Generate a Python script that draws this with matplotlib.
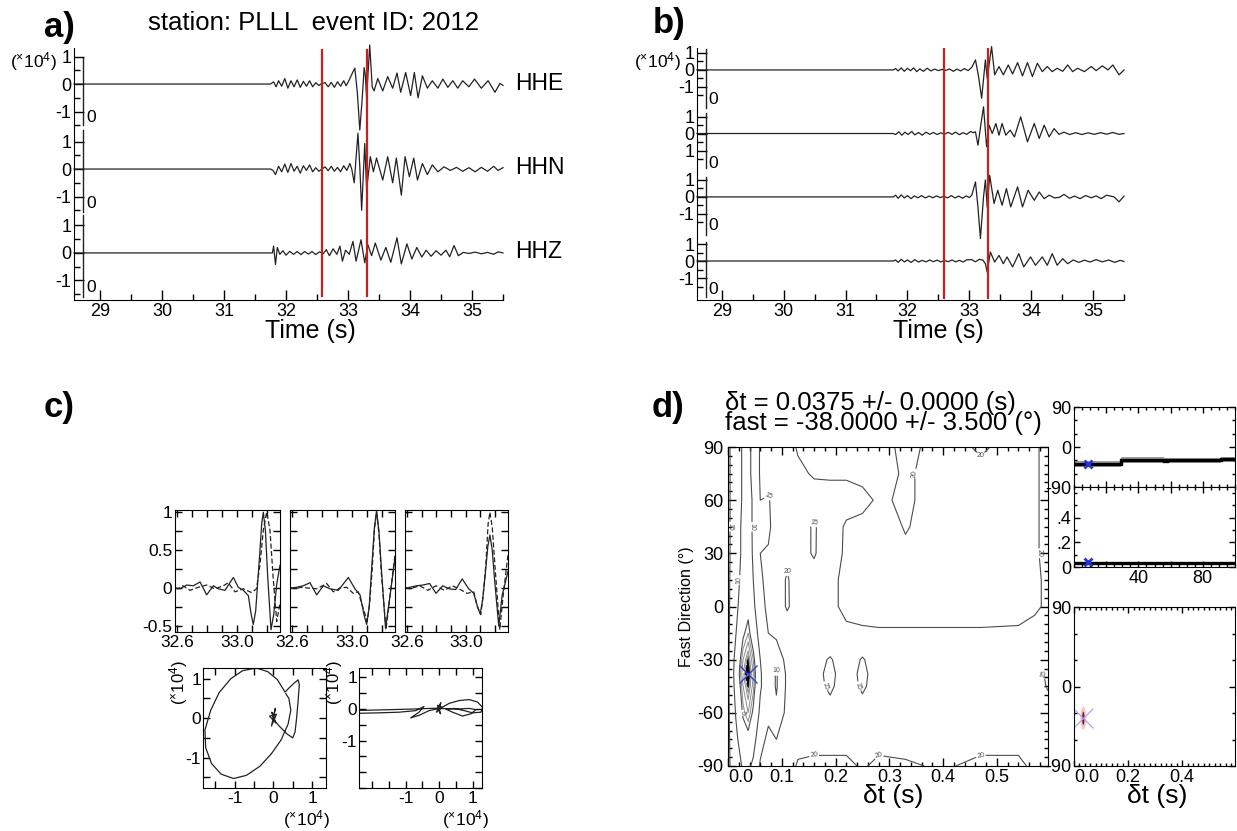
import numpy as np
import matplotlib
matplotlib.use('Agg')
import matplotlib.pyplot as plt
from matplotlib.ticker import MultipleLocator
from matplotlib.patches import Ellipse

plt.rcParams['font.family'] = ['Liberation Sans', 'DejaVu Sans']
plt.rcParams['mathtext.fontset'] = 'custom'
plt.rcParams['mathtext.rm'] = 'Liberation Sans'
plt.rcParams['mathtext.it'] = 'Liberation Sans:italic'
plt.rcParams['mathtext.bf'] = 'Liberation Sans:bold'
plt.rcParams['axes.unicode_minus'] = False

# ---------------- data ----------------
STATION = "PLLL"
EVENT_ID = "2012"
CHANNELS = ["HHE", "HHN", "HHZ"]
WINDOW = [32.585, 33.30]          # analysis window (s)
TIME_TICKS = [29, 30, 31, 32, 33, 34, 35]

HHE = [(28.58,0),(31.75,0),(31.80,0.08),(31.84,-0.10),(31.88,0.12),(31.93,-0.08),(31.98,0.20),(32.03,-0.15),
       (32.08,0.12),(32.13,-0.10),(32.18,0.15),(32.23,-0.12),(32.28,0.10),(32.33,-0.08),(32.38,0.12),(32.43,-0.10),
       (32.48,0.05),(32.53,-0.05),(32.58,0.02),(32.63,0.05),(32.68,-0.10),(32.73,0.06),(32.78,-0.12),(32.83,0.08),
       (32.88,-0.08),(32.93,0.12),(32.97,-0.06),(33.02,0.15),(33.07,0.40),(33.11,0.58),(33.15,-0.30),(33.19,-1.67),
       (33.23,-0.50),(33.26,0.60),(33.28,0.30),(33.30,-0.50),(33.35,1.42),(33.39,-0.10),(33.42,-0.25),(33.48,0.20),
       (33.56,-0.25),(33.64,0.27),(33.72,-0.15),(33.79,0.40),(33.85,-0.30),(33.93,0.42),(34.01,-0.42),(34.07,0.42),
       (34.13,-0.50),(34.20,0.30),(34.28,-0.15),(34.36,0.12),(34.45,-0.15),(34.53,0.18),(34.61,-0.12),(34.69,0.12),
       (34.77,-0.15),(34.85,0.12),(34.95,-0.10),(35.04,0.18),(35.15,-0.15),(35.26,0.12),(35.37,-0.30),(35.45,0.02),
       (35.50,-0.05)]
HHN = [(28.58,0),(31.75,0),(31.79,-0.05),(31.83,-0.20),(31.88,0.10),(31.93,-0.10),(31.98,0.18),(32.03,-0.12),
       (32.08,0.20),(32.13,-0.08),(32.18,0.10),(32.23,-0.15),(32.28,0.12),(32.33,-0.05),(32.38,0.15),(32.43,-0.10),
       (32.48,0.05),(32.53,-0.08),(32.58,0.00),(32.63,0.08),(32.68,-0.06),(32.73,0.10),(32.78,-0.08),(32.83,0.06),
       (32.88,-0.10),(32.93,0.12),(32.98,-0.05),(33.03,0.20),(33.06,0.00),(33.10,-0.50),(33.13,0.40),(33.16,1.30),
       (33.19,0.10),(33.22,-1.50),(33.27,0.93),(33.30,-0.75),(33.36,0.45),(33.41,-0.10),(33.46,0.40),(33.56,-0.40),
       (33.64,0.45),(33.72,-0.50),(33.78,0.40),(33.86,-0.95),(33.92,0.45),(33.99,-0.28),(34.06,0.40),(34.12,-0.40),
       (34.20,0.20),(34.28,-0.20),(34.36,0.15),(34.45,-0.10),(34.55,0.08),(34.65,-0.05),(34.75,0.06),(34.85,-0.08),
       (34.95,0.05),(35.05,-0.10),(35.15,0.06),(35.25,-0.08),(35.35,0.10),(35.42,-0.05),(35.50,0.05)]
HHZ = [(28.58,0),(31.78,0),(31.80,0.25),(31.83,-0.42),(31.86,0.20),(31.90,-0.05),(31.95,0.08),(32.00,-0.08),
       (32.06,0.06),(32.12,-0.05),(32.18,0.05),(32.24,-0.06),(32.30,0.05),(32.36,-0.04),(32.42,0.05),(32.48,-0.06),
       (32.54,0.04),(32.60,-0.03),(32.65,0.12),(32.70,-0.10),(32.76,0.15),(32.82,-0.05),(32.87,0.25),(32.91,-0.30),
       (32.96,0.10),(33.02,-0.05),(33.08,0.42),(33.13,-0.30),(33.21,0.48),(33.27,-0.36),(33.32,0.30),(33.38,-0.10),
       (33.44,0.36),(33.53,-0.26),(33.61,0.20),(33.69,-0.34),(33.79,0.55),(33.86,-0.40),(33.95,0.33),(34.03,-0.22),
       (34.11,0.20),(34.19,-0.15),(34.26,0.10),(34.34,-0.12),(34.42,0.08),(34.50,-0.08),(34.58,0.10),(34.64,-0.14),
       (34.71,0.27),(34.78,-0.10),(34.86,0.02),(34.95,-0.02),(35.05,0.03),(35.15,-0.03),(35.25,0.02),(35.35,-0.05),
       (35.42,0.04),(35.50,0.00)]

ROT1 = [(28.6,0),(31.77,0),(31.81,0.08),(31.85,-0.06),(31.90,0.12),(31.95,-0.08),(32.00,0.10),(32.05,-0.05),
        (32.10,0.12),(32.15,-0.10),(32.20,0.06),(32.26,-0.08),(32.32,0.10),(32.38,-0.06),(32.44,0.05),(32.50,-0.04),
        (32.56,0.03),(32.62,-0.03),(32.68,0.06),(32.74,-0.08),(32.80,0.05),(32.86,-0.06),(32.92,0.08),(32.98,-0.04),
        (33.04,0.15),(33.10,0.59),(33.15,-0.40),(33.20,-1.67),(33.26,0.59),(33.29,-0.49),(33.36,1.37),(33.41,-0.29),
        (33.48,0.20),(33.55,-0.29),(33.63,0.29),(33.70,-0.24),(33.78,0.43),(33.86,-0.35),(33.94,0.43),(34.02,-0.39),
        (34.10,0.39),(34.18,-0.10),(34.26,0.20),(34.34,-0.10),(34.42,0.10),(34.51,-0.08),(34.59,0.29),(34.67,-0.10),
        (34.75,0.10),(34.86,-0.10),(34.97,0.20),(35.05,-0.04),(35.15,0.24),(35.24,0.00),(35.32,0.29),(35.42,-0.29),
        (35.50,0.00)]
ROT2 = [(28.6,0),(31.77,0),(31.81,-0.06),(31.86,0.10),(31.91,-0.10),(31.96,0.08),(32.01,-0.06),(32.07,0.12),
        (32.12,-0.08),(32.18,0.06),(32.24,-0.10),(32.30,0.08),(32.36,-0.05),(32.42,0.06),(32.48,-0.06),(32.54,0.04),
        (32.60,-0.04),(32.66,0.07),(32.72,-0.05),(32.78,0.08),(32.84,-0.07),(32.90,0.05),(32.96,-0.05),(33.02,0.12),
        (33.06,0.05),(33.10,0.10),(33.14,-0.69),(33.19,0.60),(33.23,1.57),(33.28,-0.78),(33.32,0.49),(33.37,0.00),
        (33.43,0.59),(33.48,-0.10),(33.53,0.59),(33.59,-0.10),(33.66,0.20),(33.73,-0.20),(33.83,0.98),(33.94,-0.49),
        (34.05,0.59),(34.13,-0.29),(34.21,0.49),(34.29,-0.20),(34.37,0.29),(34.45,-0.05),(34.53,0.08),(34.62,-0.06),
        (34.72,0.05),(34.82,-0.06),(34.92,0.04),(35.02,-0.05),(35.12,0.05),(35.22,-0.04),(35.32,0.06),(35.42,-0.05),
        (35.50,0.00)]
ROT3 = [(28.6,0),(31.77,0),(31.81,0.10),(31.85,-0.08),(31.90,0.12),(31.95,-0.06),(32.00,0.08),(32.06,-0.10),
        (32.11,0.06),(32.17,-0.05),(32.23,0.08),(32.29,-0.06),(32.35,0.05),(32.41,-0.05),(32.47,0.06),(32.53,-0.04),
        (32.59,0.04),(32.65,-0.06),(32.71,0.08),(32.77,-0.06),(32.83,0.05),(32.89,-0.08),(32.95,0.06),(33.00,-0.04),
        (33.04,0.10),(33.10,0.88),(33.14,-0.60),(33.18,-2.45),(33.23,0.00),(33.26,1.00),(33.29,-0.60),(33.33,1.27),
        (33.40,-0.39),(33.46,0.39),(33.53,-0.49),(33.60,0.49),(33.67,-0.59),(33.78,0.59),(33.86,-0.59),(33.95,0.39),
        (34.05,-0.20),(34.13,0.29),(34.21,-0.10),(34.29,0.10),(34.38,-0.06),(34.46,-0.02),(34.53,0.15),(34.62,-0.08),
        (34.70,0.05),(34.79,-0.10),(34.88,0.08),(34.97,-0.05),(35.05,0.06),(35.13,-0.10),(35.22,0.10),(35.34,0.00),
        (35.42,-0.29),(35.50,0.05)]
ROT4 = [(28.6,0),(31.77,0),(31.81,0.06),(31.85,-0.08),(31.90,0.10),(31.95,-0.05),(32.00,0.06),(32.06,-0.08),
        (32.12,0.08),(32.18,-0.06),(32.24,0.04),(32.30,-0.05),(32.36,0.06),(32.42,-0.04),(32.48,0.05),(32.54,-0.05),
        (32.60,0.03),(32.66,-0.04),(32.72,0.06),(32.78,-0.05),(32.84,0.04),(32.90,-0.06),(32.96,0.07),(33.04,0.08),
        (33.10,-0.05),(33.16,0.10),(33.22,0.05),(33.26,-0.16),(33.29,-0.65),(33.34,0.53),(33.41,-0.06),(33.48,0.33),
        (33.55,-0.16),(33.61,0.24),(33.70,-0.35),(33.80,0.43),(33.88,-0.35),(33.99,0.24),(34.07,-0.25),(34.18,0.24),
        (34.26,-0.25),(34.34,0.43),(34.42,-0.25),(34.51,0.14),(34.59,-0.16),(34.68,0.06),(34.77,-0.08),(34.86,0.05),
        (34.95,-0.06),(35.05,0.08),(35.15,-0.05),(35.25,0.06),(35.35,-0.08),(35.44,0.04),(35.50,-0.03)]

# panel c: normalised waveforms in the window (solid / dashed)
C1_SOLID = [(32.59,0.0),(32.62,-0.01),(32.665,0.04),(32.709,0.03),(32.754,0.08),(32.798,-0.09),(32.843,0.03),
            (32.876,-0.01),(32.92,-0.03),(32.976,0.14),(33.009,0.01),(33.043,-0.03),(33.076,-0.10),(33.095,-0.35),
            (33.109,-0.48),(33.125,-0.30),(33.15,0.40),(33.165,0.85),(33.176,1.0),(33.19,0.75),(33.205,0.15),
            (33.227,-0.55),(33.245,-0.35),(33.265,0.05),(33.287,0.30)]
C1_DASH = [(32.59,0.0),(32.605,-0.01),(32.64,0.03),(32.687,-0.03),(32.742,0.01),(32.798,0.04),(32.853,-0.01),
           (32.909,0.03),(32.942,0.07),(32.987,-0.05),(33.043,-0.01),(33.098,-0.06),(33.13,-0.01),(33.153,0.30),
           (33.176,0.77),(33.198,1.0),(33.22,0.77),(33.242,0.12),(33.265,-0.44),(33.287,-0.20)]
C2_SOLID = [(32.59,0.0),(32.631,0.01),(32.676,0.03),(32.72,0.07),(32.765,-0.09),(32.809,0.03),(32.854,-0.01),
            (32.909,-0.03),(32.976,0.14),(33.02,-0.01),(33.054,-0.09),(33.08,-0.35),(33.098,-0.48),(33.115,-0.25),
            (33.131,0.25),(33.150,0.80),(33.164,1.02),(33.18,0.75),(33.198,0.20),(33.224,-0.53),(33.254,-0.10),
            (33.287,0.40)]
C2_DASH = [(32.59,0.0),(32.631,-0.01),(32.654,0.01),(32.765,-0.01),(32.831,0.06),(32.876,-0.05),(32.92,0.0),
           (32.965,0.01),(33.009,-0.07),(33.042,-0.05),(33.08,-0.30),(33.102,-0.44),(33.118,-0.20),(33.135,0.25),
           (33.150,0.78),(33.164,1.0),(33.18,0.72),(33.196,0.20),(33.227,-0.55),(33.254,-0.10),(33.287,0.44)]
C3_SOLID = [(32.59,0.0),(32.62,0.01),(32.665,0.03),(32.709,0.04),(32.754,0.06),(32.798,-0.07),(32.843,0.03),
            (32.887,-0.01),(32.931,-0.02),(32.976,0.12),(33.02,-0.01),(33.054,-0.07),(33.08,-0.25),(33.098,-0.34),
            (33.115,-0.15),(33.131,0.15),(33.15,0.55),(33.164,0.70),(33.18,0.50),(33.194,0.15),(33.224,-0.50),
            (33.247,-0.10),(33.287,0.22)]
C3_DASH = [(32.59,0.0),(32.62,-0.01),(32.687,0.03),(32.742,-0.03),(32.798,0.03),(32.854,-0.03),(32.909,0.03),
           (32.954,-0.01),(33.009,-0.07),(33.054,-0.05),(33.08,-0.25),(33.102,-0.35),(33.118,-0.10),(33.136,0.30),
           (33.152,0.85),(33.164,1.0),(33.18,0.80),(33.198,0.30),(33.231,-0.55),(33.254,-0.10),(33.287,0.44)]

# particle motion (x 1e4)
PM_BEFORE = [(0,0),(0.05,0.25),(-0.05,-0.2),(0.08,0.1),(-0.1,0.05),(0.06,-0.12),(-0.04,0.15),(0.02,-0.05),
             (0.15,-0.2),(0.35,-0.4),(0.5,-0.5),(0.56,-0.35),(0.6,0.0),(0.64,0.45),(0.67,0.85),(0.64,0.97),
             (0.55,0.9),(0.42,0.78),(0.3,0.66),(0.1,0.98),(-0.15,1.18),(-0.45,1.27),(-0.8,1.2),(-1.1,1.0),
             (-1.4,0.65),(-1.62,0.2),(-1.77,-0.3),(-1.75,-0.75),(-1.6,-1.15),(-1.35,-1.42),(-1.03,-1.53),
             (-0.7,-1.45),(-0.35,-1.22),(-0.05,-0.9),(0.2,-0.55),(0.38,-0.15),(0.45,0.2),(0.4,0.5),(0.32,0.62)]
PM_AFTER = [(0,0),(0.05,0.2),(-0.08,-0.1),(0.1,0.05),(-0.05,0.12),(0.04,-0.15),(0,0),(0.3,0.18),(0.6,0.27),
            (0.9,0.3),(1.15,0.22),(1.3,0.05),(1.25,-0.1),(1.0,-0.12),(0.75,-0.05),(0.45,0.02),(0.2,0.0),
            (0.4,-0.1),(0.7,-0.22),(0.95,-0.15),(1.1,-0.02),(0.9,0.02),(0.5,0.0),(0.0,0.02),(-0.3,-0.05),
            (-0.6,-0.2),(-0.85,-0.28),(-0.6,-0.1),(-0.45,0.08),(-0.7,-0.05),(-1.2,-0.1),(-1.8,-0.12),(-2.6,-0.14),
            (-2.6,-0.05),(-1.5,-0.02),(-0.8,0.0),(0.0,0.03)]

# panel d: energy grid
DT = [0, 0.015, 0.028, 0.0375, 0.047, 0.06, 0.075, 0.09, 0.11, 0.13, 0.16, 0.19, 0.22, 0.25, 0.28, 0.33,
      0.40, 0.47, 0.54, 0.57, 0.595]
FAST = [-90, -75, -60, -45, -38, -30, -15, 0, 15, 30, 45, 60, 75, 90]
ENERGY = [
 [16, 12, 9.5, 9, 11, 15.5, 17.5, 17.5, 18, 20.5, 21, 21, 21, 19.5, 21, 20.5, 19.5, 21, 21, 19, 18.5],
 [16, 11, 7, 6, 8, 13.5, 16, 15, 17.5, 18.5, 18.5, 18.5, 18.5, 18.5, 18.5, 18.5, 18.5, 18.5, 18.5, 18.5, 18.5],
 [16, 9.5, 4.5, 3, 5.5, 11, 14, 11, 16.5, 18, 18, 17, 18, 17.5, 18, 18.5, 18, 18, 18.5, 18, 17.5],
 [16, 8, 3, 1.0, 3.5, 9.5, 13, 9.5, 16, 18, 17, 14, 18, 14, 18, 18.5, 18, 18, 18.5, 17.5, 14.5],
 [16, 7.5, 2, 0.3, 3, 9.5, 13, 9.5, 16, 18, 17, 13.5, 18, 13.5, 18, 18.5, 18, 18, 18.5, 17.5, 14],
 [16, 8, 3, 1.0, 4, 10, 13.5, 12, 16.5, 18, 17, 14.5, 18, 14.5, 18, 18.5, 18, 18, 18.5, 18, 17],
 [16, 10, 5.5, 4, 7, 12, 15, 16, 17.5, 18, 18.5, 19, 19.6, 19.6, 19.6, 19.6, 19.6, 19.6, 19.6, 19, 18.5],
 [16, 11, 7.5, 6, 9, 13.5, 16, 17.5, 20.5, 18, 18, 19.5, 20.5, 21, 21.5, 21.5, 21.5, 21.5, 21, 20.5, 19.5],
 [16, 11.5, 8.5, 7.5, 10, 14.5, 16, 17.5, 20.5, 17.5, 17, 19.5, 20.5, 21.5, 21.5, 21.5, 21.5, 21.5, 21.5, 20.5, 19.5],
 [16, 12, 9, 8, 10.5, 15, 15.5, 17.5, 19, 17, 14.5, 18.5, 20.5, 21.5, 21.5, 20.5, 21.5, 21.5, 21.5, 20.5, 19],
 [16, 12, 9, 8.5, 10.5, 14.8, 14, 17.5, 18, 17, 14.5, 18, 20.5, 21, 21.5, 19.8, 21.5, 21.5, 21.5, 20.5, 19],
 [16, 12, 9.5, 8.5, 10.5, 15, 14.5, 17.5, 18, 18, 18, 18.5, 18.5, 19, 20.5, 19.5, 21.5, 21.5, 21.5, 20.5, 19],
 [16, 12, 9.5, 9, 11, 15.5, 17.5, 17.5, 18, 19, 20.5, 20.5, 20.5, 21, 21.5, 19.5, 21.5, 21, 21.5, 20.5, 19],
 [16, 12, 9.5, 9, 11, 15.5, 17.5, 17.5, 18, 20.5, 21.5, 21.5, 21.5, 21.5, 21.5, 19, 21.5, 19.5, 21.5, 20.5, 19],
]
BEST_DT, DT_ERR = 0.0375, 0.0000
BEST_FAST, FAST_ERR = -38.0, 3.5

WIN_EDGES = [0, 29.5, 56, 58, 91, 100]
WIN_FAST = [-38, -29, -31, -30, -28]
WIN_FAST_ERR = [7, 6, 6, 6, 6]
WIN_DT = [0.030, 0.034, 0.032, 0.033, 0.034]
WIN_DT_ERR = [0.006, 0.006, 0.006, 0.006, 0.006]
BEST_WIN = 9

# ---------------- figure ----------------
W, H = 1237, 831
fig = plt.figure(figsize=(W / 100, H / 100), dpi=100)


def box(x0, y0, x1, y1):
    return fig.add_axes([x0 / W, 1 - y1 / H, (x1 - x0) / W, (y1 - y0) / H])


def ftext(x, y, s, **kw):
    kw.setdefault('ha', 'center')
    kw.setdefault('va', 'center')
    return fig.text(x / W, 1 - y / H, s, **kw)


XLAB = r'($^{\times}$10$^{4}$)'
LC = '#222222'
RED = '#c8201e'

# ---------------- panel a ----------------
axa = box(74, 48, 503, 300)
ya0, ya_s = 1.31, 27.51
axa.set_xlim(28.58, 35.5)
axa.set_ylim(ya0 - 252 / ya_s, ya0)
offs_a = [0.0, -3.09, -6.14]
for tr, off in zip([HHE, HHN, HHZ], offs_a):
    arr = np.array(tr)
    axa.plot(arr[:, 0], off + arr[:, 1], color=LC, lw=0.9, clip_on=False, solid_joinstyle='round')
for w in WINDOW:
    axa.plot([w, w], [ya0 - 2 / ya_s, ya0 - 248 / ya_s], color=RED, lw=1.6)
for y0p, y1p in [(58, 125), (130, 212), (215, 297)]:
    axa.plot([28.72, 28.72], [ya0 - (y0p - 48) / ya_s, ya0 - (y1p - 48) / ya_s], color=LC, lw=1.0)
yt, yl = [], []
for off in offs_a:
    yt += [off + 1, off, off - 1]
    yl += ['1', '0', '-1']
axa.set_yticks(yt, yl)
axa.set_yticks([o + d for o in offs_a for d in (0.5, -0.5, -1.5)], minor=True)
axa.set_xticks(TIME_TICKS)
axa.xaxis.set_minor_locator(MultipleLocator(0.5))
axa.tick_params(which='both', direction='in', labelsize=13, width=1)
axa.tick_params(which='major', length=7)
axa.tick_params(which='minor', length=4)
axa.tick_params(axis='y', pad=2)
axa.tick_params(axis='x', pad=2.5)
for s in ['top', 'right']:
    axa.spines[s].set_visible(False)
ftext(59, 27, 'a)', fontsize=25, fontweight='bold')
ftext(314, 23, f'station: {STATION}  event ID: {EVENT_ID}', fontsize=18.5)
ftext(33, 62, XLAB, fontsize=12.5)
for ch, yp in zip(CHANNELS, [83, 167, 252]):
    ftext(515, yp, ch, fontsize=16.5, ha='left')
for yp in [117, 203, 288]:
    ftext(91, yp, '0', fontsize=12.5)
ftext(310, 319, 'Time (s)', fontsize=18, va='top')

# ---------------- panel b ----------------
axb = box(697, 48, 1124, 300)
yb0, yb_s = 1.29, 17.0
axb.set_xlim(28.6, 35.5)
axb.set_ylim(yb0 - 252 / yb_s, yb0)
offs_b = [0.0, -3.74, -7.47, -11.24]
for tr, off in zip([ROT1, ROT2, ROT3, ROT4], offs_b):
    arr = np.array(tr)
    axb.plot(arr[:, 0], off + arr[:, 1], color=LC, lw=0.9, clip_on=False, solid_joinstyle='round')
for w in WINDOW:
    axb.plot([w, w], [yb0, yb0 - 250 / yb_s], color=RED, lw=1.6)
for y0p, y1p in [(49, 108), (113, 168), (177, 235), (242, 297)]:
    axb.plot([28.74, 28.74], [yb0 - (y0p - 48) / yb_s, yb0 - (y1p - 48) / yb_s], color=LC, lw=1.0)
yt, yl = [], []
for i, off in enumerate(offs_b):
    yt += [off + 1, off, off - 1]
    yl += ['1', '0', '1' if i == 1 else '-1']
axb.set_yticks(yt, yl)
axb.set_yticks([o + d for o in offs_b for d in (0.5, -0.5, -1.5)], minor=True)
axb.set_xticks(TIME_TICKS)
axb.xaxis.set_minor_locator(MultipleLocator(0.5))
axb.tick_params(which='both', direction='in', labelsize=13, width=1)
axb.tick_params(which='major', length=7)
axb.tick_params(which='minor', length=4)
axb.tick_params(axis='y', pad=2)
axb.tick_params(axis='x', pad=2.5)
for s in ['top', 'right']:
    axb.spines[s].set_visible(False)
ftext(669, 24, 'b)', fontsize=25, fontweight='bold')
ftext(657, 62, XLAB, fontsize=12.5)
for yp in [99, 164, 225, 290]:
    ftext(713, yp, '0', fontsize=12.5)
ftext(938, 319, 'Time (s)', fontsize=18, va='top')

# ---------------- panel c ----------------
ftext(59, 408, 'c)', fontsize=25, fontweight='bold')
cboxes = [(175, 510, 280, 632), (290, 510, 395, 632), (405, 510, 508, 632)]
cdata = [(C1_SOLID, C1_DASH), (C2_SOLID, C2_DASH), (C3_SOLID, C3_DASH)]
for i, (bx, (sol, das)) in enumerate(zip(cboxes, cdata)):
    ax = box(*bx)
    s = np.array(sol)
    d = np.array(das)
    ax.plot(s[:, 0], s[:, 1], color=LC, lw=0.9, solid_joinstyle='round')
    ax.plot(d[:, 0], d[:, 1], color=LC, lw=0.9, dashes=(4, 2))
    ax.set_xlim(32.587, 33.287)
    ax.set_ylim(-0.58, 1.03)
    ax.set_xticks([32.6, 33.0], ['32.6', '33.0'])
    ax.xaxis.set_minor_locator(MultipleLocator(0.1))
    ax.set_yticks([-0.5, 0, 0.5, 1], ['-0.5', '0', '0.5', '1'] if i == 0 else [])
    ax.yaxis.set_minor_locator(MultipleLocator(0.25))
    ax.tick_params(which='both', direction='in', top=True, right=True, length=5, width=1, labelsize=12.5)
    ax.tick_params(axis='x', pad=2)
    ax.tick_params(axis='y', pad=2)

pm_boxes = [((203, 668, 326, 788), PM_BEFORE, (-1.82, 1.36), (-1.77, 1.27), (179, 682), (306, 820)),
            ((359, 668, 482, 788), PM_AFTER, (-2.39, 1.28), (-2.5, 1.3), (334, 682), (465, 820))]
for bx, pm, xl, yl_, ylab, xlab in pm_boxes:
    ax = box(*bx)
    p = np.array(pm)
    ax.plot(p[:, 0], p[:, 1], color=LC, lw=0.9, solid_joinstyle='round')
    ax.set_xlim(*xl)
    ax.set_ylim(*yl_)
    ax.set_xticks([-1, 0, 1])
    ax.set_yticks([-1, 0, 1])
    ax.xaxis.set_minor_locator(MultipleLocator(0.5))
    ax.yaxis.set_minor_locator(MultipleLocator(0.5))
    ax.tick_params(which='both', direction='in', top=True, right=True, length=5, width=1, labelsize=12.5)
    ax.tick_params(axis='x', pad=2)
    ax.tick_params(axis='y', pad=1.5)
    ftext(ylab[0], ylab[1], XLAB, fontsize=12, rotation=90)
    ftext(xlab[0], xlab[1], XLAB, fontsize=12.5)

# ---------------- panel d ----------------
ftext(668, 408, 'd)', fontsize=25, fontweight='bold')
title_d = (f'\u03b4t = {BEST_DT:.4f} +/- {DT_ERR:.4f} (s)\n'
           f'fast = {BEST_FAST:.4f} +/- {FAST_ERR:.3f} (\u00b0)')
ftext(725, 413, title_d, fontsize=18.5, ha='left', linespacing=0.82)

axd = box(728, 447, 1048, 766)
Z = np.array(ENERGY)
axd.contourf(DT, FAST, Z, levels=[0, 1.1], colors=['black'])
cs_in = axd.contour(DT, FAST, Z, levels=[1.5, 2, 3, 4], colors=['0.55'], linewidths=0.7)
cs = axd.contour(DT, FAST, Z, levels=[5, 10, 15, 20], colors=['0.3'], linewidths=0.8)
axd.clabel(cs, fontsize=5, fmt='%d', inline=True, inline_spacing=1)
axd.clabel(cs_in, levels=[2], fontsize=5, fmt='%d', inline=True, inline_spacing=1)
axd.plot([BEST_DT], [BEST_FAST], marker='x', ms=13, mew=1.0, color='#3344cc', ls='none')
axd.set_xlim(0, 0.595)
axd.set_ylim(-90, 90)
axd.set_xticks([0.0, 0.1, 0.2, 0.3, 0.4, 0.5], ['0.0', '0.1', '0.2', '0.3', '0.4', '0.5'])
axd.xaxis.set_minor_locator(MultipleLocator(0.02))
axd.set_yticks([-90, -60, -30, 0, 30, 60, 90])
axd.yaxis.set_minor_locator(MultipleLocator(5))
axd.tick_params(which='both', direction='in', top=True, right=True, width=1, labelsize=13)
axd.tick_params(which='major', length=6)
axd.tick_params(which='minor', length=3)
axd.tick_params(axis='x', pad=2)
axd.get_xticklabels()[0].set_horizontalalignment('left')
ftext(687, 607, 'Fast Direction (\u00b0)', fontsize=11.5, rotation=90)
ftext(893, 796, '\u03b4t (s)', fontsize=19)

edges = np.array(WIN_EDGES)
ax1 = box(1074, 407, 1235, 487)
ax1.stairs(np.array(WIN_FAST) + np.array(WIN_FAST_ERR), edges,
           baseline=np.array(WIN_FAST) - np.array(WIN_FAST_ERR), fill=True, color='0.62')
ax1.stairs(WIN_FAST, edges, baseline=None, color='black', lw=2.4)
ax1.plot([BEST_WIN], [BEST_FAST], marker='x', ms=6, mew=2, color='#2233dd', ls='none')
ax1.set_xlim(0, 100)
ax1.set_ylim(-90, 90)
ax1.set_yticks([-90, 0, 90], ['-90', '0', '90'])
ax1.set_xticks([20, 40, 60, 80], [])
ax1.xaxis.set_minor_locator(MultipleLocator(5))
ax1.yaxis.set_minor_locator(MultipleLocator(30))
ax1.tick_params(which='both', direction='in', top=True, right=True, width=1, labelsize=13, pad=2)
ax1.tick_params(which='major', length=4)
ax1.tick_params(which='minor', length=2.5)

ax2 = box(1074, 487, 1235, 567)
ax2.stairs(np.array(WIN_DT) + np.array(WIN_DT_ERR), edges,
           baseline=np.array(WIN_DT) - np.array(WIN_DT_ERR), fill=True, color='0.62')
ax2.stairs(WIN_DT, edges, baseline=None, color='black', lw=2.4)
ax2.plot([BEST_WIN], [BEST_DT], marker='x', ms=6, mew=2, color='#2233dd', ls='none')
ax2.set_xlim(0, 100)
ax2.set_ylim(0, 0.65)
ax2.set_yticks([0, 0.2, 0.4], ['0', '.2', '.4'])
ax2.set_xticks([20, 40, 60, 80], ['', '40', '', '80'])
ax2.xaxis.set_minor_locator(MultipleLocator(5))
ax2.yaxis.set_minor_locator(MultipleLocator(0.1))
ax2.tick_params(which='both', direction='in', top=True, right=True, width=1, labelsize=13, pad=2)
ax2.tick_params(which='major', length=4)
ax2.tick_params(which='minor', length=2.5)

ax3 = box(1074, 607, 1235, 766)
ax3.add_patch(Ellipse((BEST_DT - 0.003, BEST_FAST + 2), 0.022, 26, color='#f0a0a0', alpha=0.6, lw=0))
ax3.add_patch(Ellipse((BEST_DT - 0.003, BEST_FAST + 2), 0.008, 15, color='#6a1020', lw=0))
ax3.plot([BEST_DT - 0.003], [BEST_FAST + 2], marker='x', ms=15, mew=0.8, color='#a9a0e8', ls='none')
ax3.set_xlim(0, 0.595)
ax3.set_ylim(-90, 90)
ax3.set_xticks([0.0, 0.2, 0.4], ['0.0', '0.2', '0.4'])
ax3.xaxis.set_minor_locator(MultipleLocator(0.02))
ax3.set_yticks([-90, 0, 90], ['-90', '0', '90'])
ax3.yaxis.set_minor_locator(MultipleLocator(30))
ax3.tick_params(which='both', direction='in', top=True, right=True, width=1, labelsize=13, pad=2)
ax3.tick_params(which='major', length=4)
ax3.tick_params(which='minor', length=2.5)
ax3.get_xticklabels()[0].set_horizontalalignment('left')
ftext(1157, 796, '\u03b4t (s)', fontsize=19)

fig.savefig('out.png', dpi=100)
